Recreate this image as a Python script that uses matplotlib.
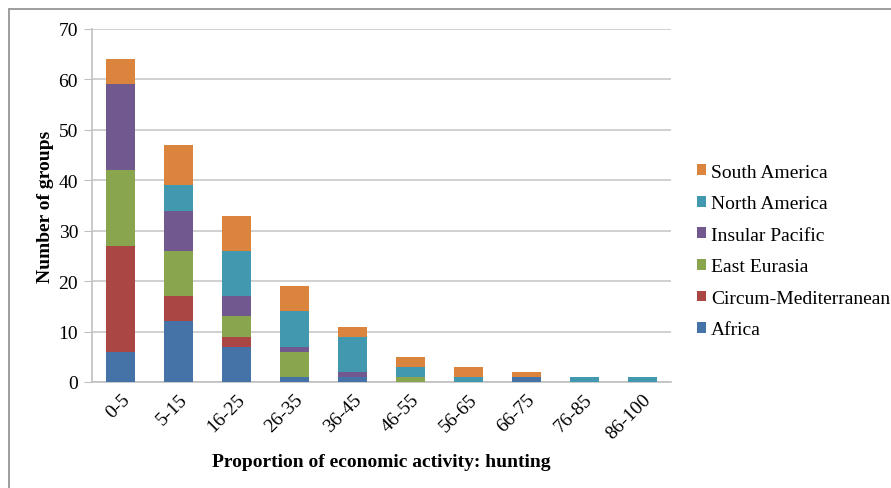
import matplotlib
matplotlib.use("Agg")
import matplotlib.pyplot as plt
from matplotlib.patches import Rectangle
import numpy as np

categories = ["0-5", "5-15", "16-25", "26-35", "36-45", "46-55", "56-65", "66-75", "76-85", "86-100"]
africa = [6, 12, 7, 1, 1, 0, 0, 1, 0, 0]
circum_med = [21, 5, 2, 0, 0, 0, 0, 0, 0, 0]
east_eurasia = [15, 9, 4, 5, 0, 1, 0, 0, 0, 0]
insular_pacific = [17, 8, 4, 1, 1, 0, 0, 0, 0, 0]
north_america = [0, 5, 9, 7, 7, 2, 1, 0, 1, 1]
south_america = [5, 8, 7, 5, 2, 2, 2, 1, 0, 0]

series_names = ["Africa", "Circum-Mediterranean", "East Eurasia", "Insular Pacific",
                "North America", "South America"]
series_values = [africa, circum_med, east_eurasia, insular_pacific, north_america, south_america]
colors = ["#4573a7", "#aa4644", "#89a54e", "#71588f", "#4198af", "#db843d"]

plt.rcParams["font.family"] = ["Liberation Serif", "DejaVu Serif"]

fig = plt.figure(figsize=(8.91, 4.89), dpi=100)
W, H = 891, 489
ax = fig.add_axes([92 / W, 1 - 383 / H, (671 - 92) / W, (383 - 30) / H])

# outer chart frame
fig.patches.append(Rectangle((9 / W, -0.1), 1.2, 1 - 10 / H + 0.1, transform=fig.transFigure,
                             fill=False, edgecolor="#8c8c8c", linewidth=1.2))

x = np.arange(len(categories))
bottom = np.zeros(len(categories))
handles = []
for name, vals, c in zip(series_names, series_values, colors):
    b = ax.bar(x, vals, width=0.5, bottom=bottom, color=c, label=name, zorder=3)
    handles.append(b)
    bottom += np.array(vals)

ax.set_xlim(-0.5, len(categories) - 0.5)
ax.set_ylim(0, 70)
ax.set_yticks(range(0, 71, 10))
ax.yaxis.grid(True, color="#c8c8c8", linewidth=1.2, zorder=0)
ax.set_axisbelow(True)
for s in ["top", "right"]:
    ax.spines[s].set_visible(False)
ax.spines["left"].set_color("#c0c0c0")
ax.spines["bottom"].set_color("#c0c0c0")
ax.spines["left"].set_linewidth(1.2)
ax.spines["bottom"].set_linewidth(1.2)
ax.tick_params(axis="y", length=6, color="#c0c0c0", labelsize=14, pad=4)
ax.tick_params(axis="x", length=0, labelsize=14, pad=6)
ax.set_xticks(x)
ax.set_xticklabels(categories, rotation=45, ha="right", rotation_mode="anchor")

ax.set_ylabel("Number of groups", fontsize=14, fontweight="bold", labelpad=3)
ax.set_xlabel("Proportion of economic activity: hunting", fontsize=14, fontweight="bold", labelpad=8)

leg = ax.legend(handles[::-1], series_names[::-1], loc="center left",
                bbox_to_anchor=(697 / W, 1 - 252 / H), bbox_transform=fig.transFigure,
                frameon=False, fontsize=14, handlelength=0.47, handleheight=0.47,
                handletextpad=0.25, labelspacing=0.75, borderaxespad=0, borderpad=0)

fig.savefig("out.png", dpi=100)
